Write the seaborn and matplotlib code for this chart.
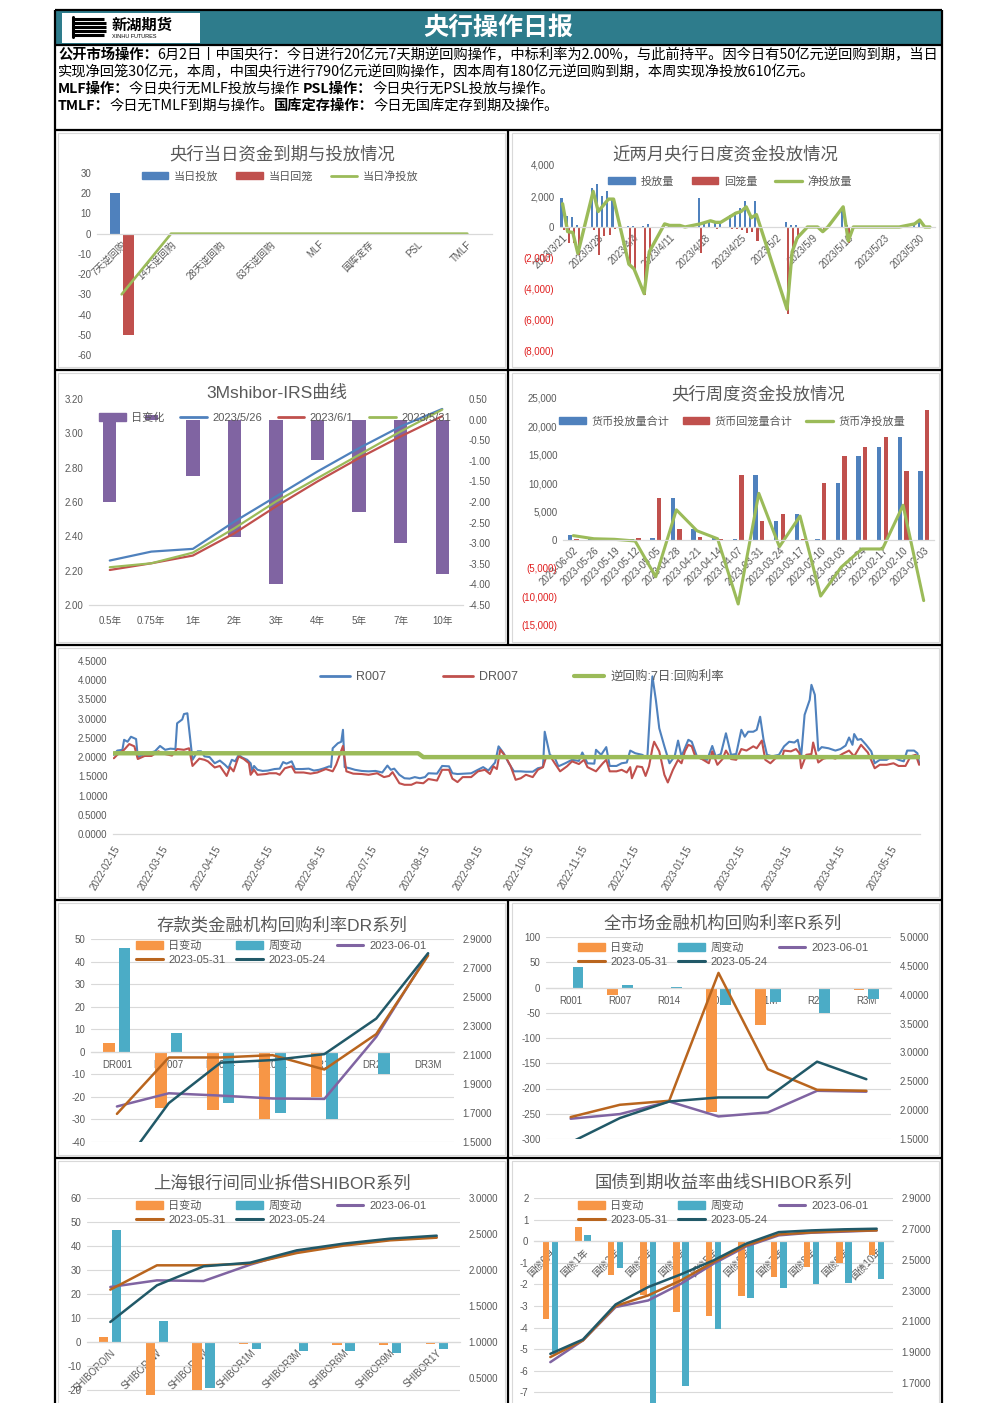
import numpy as np
import pandas as pd
import matplotlib
matplotlib.use("Agg")
import matplotlib.pyplot as plt
from matplotlib.patches import Patch, Rectangle
from matplotlib.lines import Line2D
import seaborn as sns

sns.set_style("white")
plt.rcParams["font.family"] = ["Liberation Sans", "Noto Sans CJK SC"]
plt.rcParams["axes.unicode_minus"] = False

W, H = 992, 1403
BLUE, RED, GREEN, PURPLE = "#4F81BD", "#C0504D", "#9BBB59", "#8064A2"
ORANGE, AQUA, BROWN, TEAL = "#F79646", "#4BACC6", "#B9651E", "#215968"
GRAY_TXT, GRAY_LN = "#595959", "#D9D9D9"
HEADER = "#2E7C8C"
NEG_RED = "#E02020"

# ---------------- data ----------------
# 央行当日资金到期与投放情况
op_cats = ["7天逆回购", "14天逆回购", "28天逆回购", "63天逆回购", "MLF", "国库定存", "PSL", "TMLF"]
op_inject = [20, 0, 0, 0, 0, 0, 0, 0]
op_withdraw = [-50, 0, 0, 0, 0, 0, 0, 0]
op_net = [-30, 0, 0, 0, 0, 0, 0, 0]

# 近两月央行日度资金投放情况
daily_dates = ["2023-03-21", "2023-03-22", "2023-03-23", "2023-03-24", "2023-03-27", "2023-03-28",
               "2023-03-29", "2023-03-30", "2023-03-31", "2023-04-03", "2023-04-04", "2023-04-06",
               "2023-04-07", "2023-04-10", "2023-04-11", "2023-04-12", "2023-04-13", "2023-04-14",
               "2023-04-17", "2023-04-18", "2023-04-19", "2023-04-20", "2023-04-21", "2023-04-23",
               "2023-04-24", "2023-04-25", "2023-04-26", "2023-04-27", "2023-04-28", "2023-05-04",
               "2023-05-05", "2023-05-06", "2023-05-08", "2023-05-09", "2023-05-10", "2023-05-11",
               "2023-05-12", "2023-05-15", "2023-05-16", "2023-05-17", "2023-05-18", "2023-05-19",
               "2023-05-22", "2023-05-23", "2023-05-24", "2023-05-25", "2023-05-26", "2023-05-29",
               "2023-05-30", "2023-05-31", "2023-06-01"]
daily_inject = [1900, 700, 650, 100, 2500, 2800, 2000, 2300, 1900, 80, 80, 80,
                200, 200, 100, 100, 100, 0, 1900, 300, 400, 300, 300, 800,
                1000, 1200, 1700, 900, 1700, 300, 100, 100, 0, 0, 0, 20,
                20, 1300, 100, 20, 20, 20, 20, 20, 20, 20, 20, 200,
                450, 50, 20]
daily_withdraw = [-200, -1000, -1000, -1800, -200, -1800, -600, -500, -100, -2500, -2800, -4400,
                  -1800, 0, 0, 0, 0, 0, -1700, 0, 0, -100, 0, -100,
                  -100, -200, -400, -300, -900, -5600, -1700, -800, -20, -20, -20, -320,
                  -20, 0, -1000, -20, -20, -20, -20, -20, -20, -20, -20, 0,
                  0, -50, -20]
daily_net = [1500, -300, -350, -1700, 2300, 1000, 1400, 1800, 1800, -2400, -2700, -4300,
             -1600, 200, 100, 100, 100, 0, 200, 300, 400, 300, 300, 700,
             900, 1000, 1300, 600, 800, -5300, -1600, -700, 0, 0, 0, -300,
             0, 1300, -900, 0, 0, 0, 0, 0, 0, 0, 0, 200,
             450, 0, 0]
daily_ticks = ["2023-03-21", "2023-03-28", "2023-04-04", "2023-04-11", "2023-04-18", "2023-04-25",
               "2023-05-02", "2023-05-09", "2023-05-16", "2023-05-23", "2023-05-30"]

# 3Mshibor-IRS曲线
irs_cats = ["0.5年", "0.75年", "1年", "2年", "3年", "4年", "5年", "7年", "10年"]
irs_chg = [-2.0, 0.1, -1.38, -2.86, -4.0, -0.99, -2.25, -3.0, -3.75]
irs_0526 = [2.259, 2.311, 2.327, 2.486, 2.632, 2.778, 2.914, 3.040, 3.142]
irs_0601 = [2.204, 2.243, 2.288, 2.418, 2.574, 2.720, 2.856, 2.982, 3.100]
irs_0531 = [2.220, 2.243, 2.305, 2.447, 2.603, 2.739, 2.875, 3.011, 3.138]

# 央行周度资金投放情况
wk_cats = ["2023-06-02", "2023-05-26", "2023-05-19", "2023-05-12", "2023-05-05", "2023-04-28",
           "2023-04-21", "2023-04-14", "2023-04-07", "2023-03-31", "2023-03-24", "2023-03-17",
           "2023-03-10", "2023-03-03", "2023-02-24", "2023-02-17", "2023-02-10", "2023-02-03"]
wk_inject = [790, 100, 100, 200, 300, 7300, 1900, 300, 200, 11500, 3300, 4600,
             150, 10000, 14800, 16400, 18200, 12200]
wk_withdraw = [180, 20, 20, 300, 7300, 1900, 500, 200, 11500, 3300, 4600, 150,
               10000, 14800, 16400, 18200, 12200, 22900]
wk_net = [750, 200, 100, -200, -6500, 5300, 1600, 200, -11300, 8200, -1200, 4200,
          -9900, -4800, -1600, -1600, 6100, -10700]

# R007 / DR007 / 逆回购
r007_dates = ["2022-02-15", "2022-02-17", "2022-02-20", "2022-02-21", "2022-02-23", "2022-02-25",
              "2022-02-28", "2022-03-01", "2022-03-04", "2022-03-07", "2022-03-11", "2022-03-14",
              "2022-03-17", "2022-03-20", "2022-03-23", "2022-03-24", "2022-03-27", "2022-03-28",
              "2022-03-30", "2022-04-02", "2022-04-05", "2022-04-07", "2022-04-09", "2022-04-12",
              "2022-04-15", "2022-04-18", "2022-04-21", "2022-04-23", "2022-04-25", "2022-04-27",
              "2022-04-29", "2022-05-01", "2022-05-04", "2022-05-06", "2022-05-07", "2022-05-08",
              "2022-05-10", "2022-05-13", "2022-05-16", "2022-05-20", "2022-05-23", "2022-05-25",
              "2022-05-27", "2022-05-30", "2022-06-01", "2022-06-05", "2022-06-09", "2022-06-12",
              "2022-06-15", "2022-06-18", "2022-06-21", "2022-06-22", "2022-06-23", "2022-06-26",
              "2022-06-28", "2022-06-29", "2022-06-30", "2022-07-03", "2022-07-06", "2022-07-10",
              "2022-07-14", "2022-07-18", "2022-07-22", "2022-07-25", "2022-07-27", "2022-07-29",
              "2022-08-01", "2022-08-04", "2022-08-07", "2022-08-10", "2022-08-13", "2022-08-16",
              "2022-08-18", "2022-08-23", "2022-08-26", "2022-08-30", "2022-09-01", "2022-09-04",
              "2022-09-08", "2022-09-12", "2022-09-16", "2022-09-19", "2022-09-22", "2022-09-26",
              "2022-09-28", "2022-10-01", "2022-10-04", "2022-10-07", "2022-10-11", "2022-10-14",
              "2022-10-18", "2022-10-21", "2022-10-24", "2022-10-25", "2022-10-28", "2022-10-31",
              "2022-11-02", "2022-11-06", "2022-11-10", "2022-11-14", "2022-11-16", "2022-11-19",
              "2022-11-23", "2022-11-24", "2022-11-27", "2022-11-30", "2022-12-02", "2022-12-06",
              "2022-12-09", "2022-12-12", "2022-12-14", "2022-12-17", "2022-12-21", "2022-12-24",
              "2022-12-26", "2022-12-27", "2022-12-29", "2022-12-31", "2023-01-03", "2023-01-06",
              "2023-01-09", "2023-01-11", "2023-01-13", "2023-01-17", "2023-01-19", "2023-01-22",
              "2023-01-25", "2023-01-28", "2023-01-31", "2023-02-02", "2023-02-05", "2023-02-08",
              "2023-02-11", "2023-02-14", "2023-02-17", "2023-02-19", "2023-02-21", "2023-02-24",
              "2023-02-26", "2023-02-28", "2023-03-02", "2023-03-04", "2023-03-07", "2023-03-11",
              "2023-03-14", "2023-03-17", "2023-03-20", "2023-03-22", "2023-03-24", "2023-03-26",
              "2023-03-29", "2023-03-30", "2023-04-01", "2023-04-03", "2023-04-05", "2023-04-09",
              "2023-04-13", "2023-04-16", "2023-04-19", "2023-04-21", "2023-04-23", "2023-04-24",
              "2023-04-26", "2023-04-28", "2023-05-01", "2023-05-04", "2023-05-06", "2023-05-09",
              "2023-05-13", "2023-05-16", "2023-05-20", "2023-05-23", "2023-05-25", "2023-05-29",
              "2023-05-31", "2023-06-01"]
r007_vals = [2.06, 2.17, 2.19, 2.45, 2.40, 2.53, 2.47, 2.00, 2.06, 2.10, 2.15, 2.29,
             2.19, 2.22, 2.21, 2.88, 2.98, 3.12, 3.14, 1.93, 2.15, 2.15, 2.02, 2.00,
             1.84, 1.91, 1.80, 1.71, 1.93, 1.89, 2.06, 1.99, 1.93, 1.84, 1.63, 1.77,
             1.67, 1.64, 1.65, 1.69, 1.70, 1.87, 1.83, 1.89, 1.69, 1.69, 1.70, 1.65,
             1.67, 1.71, 1.76, 1.74, 2.23, 2.36, 2.40, 2.71, 1.74, 1.71, 1.67, 1.64,
             1.63, 1.64, 1.60, 1.78, 1.67, 1.70, 1.54, 1.45, 1.44, 1.48, 1.45, 1.48,
             1.58, 1.57, 1.77, 1.76, 1.58, 1.56, 1.57, 1.58, 1.67, 1.74, 1.65, 1.86,
             2.28, 2.10, 1.84, 1.63, 1.63, 1.62, 1.62, 1.71, 1.74, 2.66, 2.06, 1.97,
             1.76, 1.84, 1.93, 1.90, 2.12, 1.84, 1.83, 2.19, 2.06, 2.26, 1.77, 1.77,
             1.84, 1.86, 2.17, 2.10, 2.06, 1.97, 3.49, 4.10, 3.49, 2.75, 2.28, 1.84,
             2.02, 2.43, 2.02, 2.45, 2.40, 2.02, 1.95, 1.93, 2.29, 2.02, 2.08, 2.62,
             2.06, 2.08, 2.71, 2.53, 2.66, 2.66, 2.71, 3.05, 2.45, 2.06, 2.02, 2.06,
             2.28, 2.40, 2.38, 2.45, 2.02, 3.10, 3.49, 3.88, 3.62, 2.17, 2.26, 2.23,
             2.17, 2.21, 2.30, 2.51, 2.32, 2.60, 2.45, 2.47, 2.32, 2.15, 1.84, 1.93,
             1.93, 2.02, 1.93, 1.89, 2.17, 2.17, 2.10, 1.84]
dr007_dates = ["2022-02-15", "2022-02-17", "2022-02-21", "2022-02-24", "2022-02-27", "2022-03-01",
               "2022-03-05", "2022-03-09", "2022-03-13", "2022-03-17", "2022-03-21", "2022-03-24",
               "2022-03-28", "2022-03-31", "2022-04-02", "2022-04-06", "2022-04-09", "2022-04-11",
               "2022-04-15", "2022-04-18", "2022-04-22", "2022-04-24", "2022-04-26", "2022-04-29",
               "2022-05-02", "2022-05-05", "2022-05-06", "2022-05-08", "2022-05-10", "2022-05-15",
               "2022-05-17", "2022-05-21", "2022-05-23", "2022-05-26", "2022-05-30", "2022-06-01",
               "2022-06-06", "2022-06-10", "2022-06-14", "2022-06-19", "2022-06-23", "2022-06-25",
               "2022-06-29", "2022-07-01", "2022-07-05", "2022-07-10", "2022-07-14", "2022-07-19",
               "2022-07-23", "2022-07-26", "2022-07-28", "2022-08-01", "2022-08-04", "2022-08-08",
               "2022-08-11", "2022-08-15", "2022-08-18", "2022-08-23", "2022-08-26", "2022-08-30",
               "2022-09-01", "2022-09-04", "2022-09-07", "2022-09-12", "2022-09-16", "2022-09-20",
               "2022-09-23", "2022-09-25", "2022-09-27", "2022-09-29", "2022-10-02", "2022-10-05",
               "2022-10-08", "2022-10-11", "2022-10-14", "2022-10-18", "2022-10-21", "2022-10-24",
               "2022-10-26", "2022-10-29", "2022-10-31", "2022-11-03", "2022-11-07", "2022-11-10",
               "2022-11-14", "2022-11-17", "2022-11-19", "2022-11-24", "2022-11-28", "2022-11-30",
               "2022-12-02", "2022-12-06", "2022-12-09", "2022-12-12", "2022-12-14", "2022-12-15",
               "2022-12-18", "2022-12-21", "2022-12-23", "2022-12-25", "2022-12-27", "2022-12-28",
               "2022-12-31", "2023-01-03", "2023-01-05", "2023-01-08", "2023-01-11", "2023-01-13",
               "2023-01-15", "2023-01-17", "2023-01-19", "2023-01-21", "2023-01-25", "2023-01-29",
               "2023-01-31", "2023-02-03", "2023-02-06", "2023-02-08", "2023-02-11", "2023-02-14",
               "2023-02-17", "2023-02-20", "2023-02-24", "2023-02-26", "2023-03-01", "2023-03-03",
               "2023-03-06", "2023-03-09", "2023-03-13", "2023-03-14", "2023-03-18", "2023-03-21",
               "2023-03-23", "2023-03-24", "2023-03-27", "2023-03-30", "2023-03-31", "2023-04-03",
               "2023-04-06", "2023-04-10", "2023-04-13", "2023-04-17", "2023-04-21", "2023-04-24",
               "2023-04-28", "2023-05-02", "2023-05-06", "2023-05-09", "2023-05-13", "2023-05-17",
               "2023-05-20", "2023-05-24", "2023-05-27", "2023-05-30", "2023-06-01"]
dr007_vals = [1.97, 2.06, 2.19, 2.34, 2.28, 1.95, 2.03, 2.03, 2.15, 2.08, 2.04, 2.21,
              2.19, 2.23, 1.77, 1.96, 1.93, 1.89, 1.73, 1.77, 1.51, 1.74, 1.63, 2.02,
              1.95, 1.84, 1.54, 1.67, 1.54, 1.56, 1.58, 1.58, 1.54, 1.71, 1.76, 1.60,
              1.60, 1.57, 1.60, 1.69, 1.63, 1.80, 2.29, 1.63, 1.57, 1.56, 1.54, 1.58,
              1.48, 1.51, 1.61, 1.32, 1.28, 1.28, 1.34, 1.32, 1.43, 1.39, 1.67, 1.67,
              1.44, 1.35, 1.48, 1.48, 1.63, 1.67, 1.56, 1.76, 1.69, 2.19, 2.02, 1.77,
              1.41, 1.45, 1.54, 1.48, 1.67, 1.74, 2.03, 1.97, 1.83, 1.63, 1.76, 1.89,
              1.82, 1.93, 1.74, 1.63, 1.84, 1.93, 1.63, 1.63, 1.67, 1.60, 1.74, 1.45,
              1.76, 1.74, 1.51, 1.76, 2.23, 2.40, 2.15, 1.54, 1.34, 1.67, 1.93, 1.84,
              2.15, 2.32, 2.28, 2.02, 1.95, 1.84, 2.15, 1.80, 1.95, 2.17, 1.95, 1.93,
              2.21, 2.17, 2.28, 2.23, 2.43, 1.93, 1.84, 1.97, 2.02, 2.17, 2.15, 2.21,
              2.10, 1.71, 2.06, 2.08, 2.38, 1.86, 1.96, 2.00, 1.96, 2.08, 2.17, 2.02,
              2.32, 2.12, 1.71, 1.80, 1.80, 1.84, 1.77, 1.77, 2.02, 2.06, 1.80]
repo_dates = ["2022-02-15", "2022-08-12", "2022-08-15", "2023-06-01"]
repo_vals = [2.10, 2.10, 2.00, 2.00]
rate_ticks = ["2022-02-15", "2022-03-15", "2022-04-15", "2022-05-15", "2022-06-15", "2022-07-15",
              "2022-08-15", "2022-09-15", "2022-10-15", "2022-11-15", "2022-12-15", "2023-01-15",
              "2023-02-15", "2023-03-15", "2023-04-15", "2023-05-15"]

# 存款类金融机构回购利率DR系列
dr_cats = ["DR001", "DR007", "DR014", "DR021", "DR1M", "DR2M", "DR3M"]
dr_day = [4, -25, -26, -30, -20, 0, 0]
dr_week = [46, 8.5, -22.5, -27, -30, -10, 0]
dr_0601 = [1.745, 1.836, 1.820, 1.800, 1.797, 2.225, 2.797]
dr_0531 = [1.694, 2.083, 2.083, 2.099, 2.000, 2.244, 2.786]
dr_0524 = [1.280, 1.768, 2.047, 2.065, 2.106, 2.351, 2.802]

# 全市场金融机构回购利率R系列
r_cats = ["R001", "R007", "R014", "R021", "R1M", "R2M", "R3M"]
r_day = [-2, -15, 0, -247, -75, -2, -5]
r_week = [41, 5.5, 1, -35, -28, -50, -23.5]
r_0601 = [1.851, 1.932, 2.150, 1.891, 1.960, 2.335, 2.320]
r_0531 = [1.880, 2.093, 2.162, 4.378, 2.709, 2.352, 2.335]
r_0524 = [1.440, 1.863, 2.150, 2.220, 2.220, 2.840, 2.536]

# 上海银行间同业拆借SHIBOR系列
s_cats = ["SHIBORO/N", "SHIBOR1W", "SHIBOR2W", "SHIBOR1M", "SHIBOR3M", "SHIBOR6M", "SHIBOR9M", "SHIBOR1Y"]
s_day = [2, -22, -20, -1, -0.5, -1.2, -1.3, -0.8]
s_week = [46.5, 8.7, -19, -3, -3.9, -3.9, -4.4, -3]
s_0601 = [1.764, 1.856, 1.847, 2.074, 2.264, 2.352, 2.426, 2.458]
s_0531 = [1.727, 2.065, 2.065, 2.088, 2.236, 2.338, 2.412, 2.449]
s_0524 = [1.278, 1.787, 2.051, 2.102, 2.273, 2.366, 2.435, 2.477]

# 国债到期收益率曲线SHIBOR系列
g_cats = ["国债6月", "国债1年", "国债2年", "国债3年", "国债4年", "国债5年", "国债6年", "国债7年",
          "国债8年", "国债9年", "国债10年"]
g_day = [-3.62, 0.66, -1.55, -2.5, -3.29, -3.48, -2.55, -1.65, -1.19, -1.0, -0.65]
g_week = [-5.2, 0.28, -1.24, -7.6, -6.7, -4.05, -2.63, -2.16, -2.0, -1.92, -1.75]
g_0601 = [1.836, 1.977, 2.193, 2.236, 2.344, 2.474, 2.586, 2.658, 2.675, 2.682, 2.690]
g_0531 = [1.869, 1.977, 2.200, 2.269, 2.366, 2.485, 2.593, 2.664, 2.677, 2.686, 2.690]
g_0524 = [1.890, 1.983, 2.210, 2.323, 2.405, 2.496, 2.604, 2.679, 2.690, 2.697, 2.701]

# ---------------- helpers ----------------
fig = plt.figure(figsize=(W / 100, H / 100), dpi=100)


def box(x0, y0, x1, y1):
    # pixel box (top-left origin) -> figure fraction rect
    return [x0 / W, 1 - y1 / H, (x1 - x0) / W, (y1 - y0) / H]


def excel_axes(ax, pad=4):
    for s in ("top", "right", "left"):
        ax.spines[s].set_visible(False)
    ax.spines["bottom"].set_color(GRAY_LN)
    ax.spines["bottom"].set_linewidth(0.9)
    ax.tick_params(length=0, labelsize=7, colors=GRAY_TXT, pad=pad)
    ax.set_xlabel("")
    ax.set_ylabel("")
    ax.patch.set_alpha(0)


def chart_title(x, y, s):
    fig.text(x / W, 1 - y / H, s, ha="center", va="center", fontsize=12.5, color=GRAY_TXT)


def chart_legend(x, y, handles, labels, ncol, fs=8, colsp=1.6):
    fig.legend(handles, labels, loc="center", bbox_to_anchor=(x / W, 1 - y / H), ncol=ncol,
               frameon=False, fontsize=fs, handlelength=2.4, handletextpad=0.5,
               columnspacing=colsp, labelcolor=GRAY_TXT, borderpad=0, borderaxespad=0,
               labelspacing=0.35)


def money_yaxis(ax, ticks):
    ax.set_yticks(ticks, labels=[f"({abs(t):,.0f})" if t < 0 else f"{t:,.0f}" for t in ticks])
    for t, lab in zip(ticks, ax.get_yticklabels()):
        if t < 0:
            lab.set_color(NEG_RED)


def long_bars(cats, a, b, name_a, name_b):
    return pd.DataFrame({"cat": cats + cats, "val": a + b,
                         "series": [name_a] * len(cats) + [name_b] * len(cats)})


# ---------------- page background ----------------
bg = fig.add_axes([0, 0, 1, 1])
bg.set_zorder(-1)
bg.set_xlim(0, W)
bg.set_ylim(H, 0)
bg.axis("off")

bg.add_patch(Rectangle((55, 10), 887, 35, facecolor=HEADER, edgecolor="none"))
bg.add_patch(Rectangle((62, 13), 138, 30, facecolor="white", edgecolor="none"))
for yy, x1 in zip([19, 23, 27, 31, 35], [104, 106, 106, 106, 104]):
    bg.plot([72, x1], [yy, yy], color="black", lw=2.2, solid_capstyle="butt")
bg.plot([73, 73], [17, 37], color="black", lw=2.2)
bg.text(112, 25, "新湖期货", fontsize=11, fontweight="bold", color="black", va="center",
        family=["Noto Sans CJK SC"])
bg.text(112, 37, "XINHU FUTURES", fontsize=4, color="black", va="center")
bg.text(498, 28, "央行操作日报", fontsize=18, fontweight="bold", color="white", ha="center",
        va="center", family=["Noto Sans CJK SC"])

frame = dict(color="black", lw=1.6, solid_capstyle="butt")
bg.plot([55, 942], [10, 10], **frame)
bg.plot([55, 55], [10, H], **frame)
bg.plot([942, 942], [10, H], **frame)
for yy in [45, 130, 370, 645, 900, 1158]:
    bg.plot([55, 942], [yy, yy], **frame)
bg.plot([508, 508], [130, 645], **frame)
bg.plot([508, 508], [900, H], **frame)
for (x0, y0, x1, y1) in [(58, 133, 505, 367), (512, 133, 939, 367), (58, 373, 505, 642),
                         (512, 373, 939, 642), (58, 648, 939, 897), (58, 903, 505, 1155),
                         (512, 903, 939, 1155), (58, 1161, 505, 1420), (512, 1161, 939, 1420)]:
    bg.add_patch(Rectangle((x0, y0), x1 - x0, y1 - y0, fill=False, edgecolor=GRAY_LN, lw=0.8))

# text block with bold lead-ins
renderer = fig.canvas.get_renderer()


def rich_line(x, y, parts, fs=10.3):
    for s, bold in parts:
        t = bg.text(x, y, s, fontsize=fs, fontweight="bold" if bold else "normal", va="center",
                    ha="left", color="black", family=["Noto Sans CJK SC", "DejaVu Sans"])
        x = t.get_window_extent(renderer).x1


rich_line(58, 55, [("公开市场操作：", True),
                   ("6月2日丨中国央行：今日进行20亿元7天期逆回购操作，中标利率为2.00%，与此前持平。因今日有50亿元逆回购到期，当日", False)])
rich_line(58, 72, [("实现净回笼30亿元，本周，中国央行进行790亿元逆回购操作，因本周有180亿元逆回购到期，本周实现净投放610亿元。", False)])
rich_line(58, 89, [("MLF操作：", True), ("今日央行无MLF投放与操作 ", False), ("PSL操作：", True),
                   ("今日央行无PSL投放与操作。", False)])
rich_line(58, 106, [("TMLF：", True), ("今日无TMLF到期与操作。", False), ("国库定存操作：", True),
                    ("今日无国库定存到期及操作。", False)])

# ---------------- chart 1: 当日资金到期与投放 ----------------
ax1 = fig.add_axes(box(97, 173, 492, 355))
sns.barplot(data=long_bars(op_cats, op_inject, op_withdraw, "当日投放", "当日回笼"), x="cat", y="val",
            hue="series", order=op_cats, palette=[BLUE, RED], width=0.54, gap=0.18,
            saturation=1, linewidth=0, errorbar=None, legend=False, ax=ax1)
sns.lineplot(x=np.arange(len(op_cats)), y=op_net, color=GREEN, lw=1.9, ax=ax1)
excel_axes(ax1)
ax1.set_ylim(-60, 30)
ax1.set_yticks(range(-60, 31, 10))
ax1.set_xlim(-0.5, len(op_cats) - 0.5)
ax1.spines["bottom"].set_position(("data", 0))
ax1.set_xticks(range(len(op_cats)), labels=op_cats, rotation=45, ha="right", rotation_mode="anchor")
chart_title(282, 154, "央行当日资金到期与投放情况")
chart_legend(280, 176, [Patch(color=BLUE), Patch(color=RED), Line2D([], [], color=GREEN, lw=2)],
             ["当日投放", "当日回笼", "当日净投放"], 3)

# ---------------- chart 2: 近两月日度资金 ----------------
ax2 = fig.add_axes(box(560, 165, 935, 351))
dd = pd.to_datetime(daily_dates)
ax2.bar(dd - pd.Timedelta(hours=5), daily_inject, width=0.4, color=BLUE, linewidth=0)
ax2.bar(dd + pd.Timedelta(hours=5), daily_withdraw, width=0.4, color=RED, linewidth=0)
sns.lineplot(x=dd, y=daily_net, color=GREEN, lw=2.4, ax=ax2)
excel_axes(ax2)
ax2.set_ylim(-8000, 4000)
money_yaxis(ax2, list(range(-8000, 4001, 2000)))
ax2.set_xlim(pd.Timestamp("2023-03-20 12:00"), pd.Timestamp("2023-06-02"))
ax2.spines["bottom"].set_position(("data", 0))
tk = pd.to_datetime(daily_ticks)
ax2.set_xticks(tk, labels=[f"{d.year}/{d.month}/{d.day}" for d in tk], rotation=45, ha="right",
               rotation_mode="anchor")
chart_title(725, 154, "近两月央行日度资金投放情况")
chart_legend(730, 181, [Patch(color=BLUE), Patch(color=RED), Line2D([], [], color=GREEN, lw=2.4)],
             ["投放量", "回笼量", "净投放量"], 3)

# ---------------- chart 3: 3Mshibor-IRS ----------------
ax3 = fig.add_axes(box(89, 399, 463, 605))
sns.barplot(x=irs_cats, y=irs_chg, order=irs_cats, color=PURPLE, saturation=1, width=0.32,
            linewidth=0, errorbar=None, ax=ax3)
ax3b = ax3.twinx()
for vals, c in [(irs_0526, BLUE), (irs_0601, RED), (irs_0531, GREEN)]:
    sns.lineplot(x=np.arange(len(irs_cats)), y=vals, color=c, lw=1.6, ax=ax3b)
excel_axes(ax3)
excel_axes(ax3b)
ax3b.spines["bottom"].set_visible(False)
ax3.yaxis.tick_right()
ax3b.yaxis.tick_left()
ax3.set_ylim(-4.5, 0.5)
rt = np.arange(-4.5, 0.51, 0.5)
ax3.set_yticks(rt, labels=[f"{t:.2f}" for t in rt])
ax3b.set_ylim(2.0, 3.2)
lt = np.arange(2.0, 3.21, 0.2)
ax3b.set_yticks(lt, labels=[f"{t:.2f}" for t in lt])
ax3.set_xlim(-0.5, len(irs_cats) - 0.5)
ax3.set_xticks(range(len(irs_cats)), labels=irs_cats)
ax3.tick_params(axis="x", pad=8)
chart_title(277, 393, "3Mshibor-IRS曲线")
chart_legend(275, 418, [Patch(color=PURPLE), Line2D([], [], color=BLUE, lw=2),
                        Line2D([], [], color=RED, lw=2), Line2D([], [], color=GREEN, lw=2)],
             ["日变化", "2023/5/26", "2023/6/1", "2023/5/31"], 4, colsp=1.4)

# ---------------- chart 4: 周度资金投放 ----------------
ax4 = fig.add_axes(box(563, 398, 934, 625))
sns.barplot(data=long_bars(wk_cats, wk_inject, wk_withdraw, "货币投放量合计", "货币回笼量合计"),
            x="cat", y="val", hue="series", order=wk_cats, palette=[BLUE, RED], width=0.64,
            gap=0.34, saturation=1, linewidth=0, errorbar=None, legend=False, ax=ax4)
sns.lineplot(x=np.arange(len(wk_cats)), y=wk_net, color=GREEN, lw=2.2, ax=ax4)
excel_axes(ax4)
ax4.set_ylim(-15000, 25000)
money_yaxis(ax4, list(range(-15000, 25001, 5000)))
ax4.set_xlim(-0.5, len(wk_cats) - 0.5)
ax4.spines["bottom"].set_position(("data", 0))
ax4.set_xticks(range(len(wk_cats)), labels=wk_cats, rotation=45, ha="right", rotation_mode="anchor")
chart_title(758, 394, "央行周度资金投放情况")
chart_legend(732, 421, [Patch(color=BLUE), Patch(color=RED), Line2D([], [], color=GREEN, lw=2.4)],
             ["货币投放量合计", "货币回笼量合计", "货币净投放量"], 3, colsp=1.2)

# ---------------- chart 5: R007 / DR007 ----------------
ax5 = fig.add_axes(box(113, 661, 920, 834))
sns.lineplot(x=pd.to_datetime(r007_dates), y=r007_vals, color=BLUE, lw=1.5, ax=ax5)
sns.lineplot(x=pd.to_datetime(dr007_dates), y=dr007_vals, color=RED, lw=1.5, ax=ax5)
sns.lineplot(x=pd.to_datetime(repo_dates), y=repo_vals, color=GREEN, lw=3.2, ax=ax5)
excel_axes(ax5)
ax5.set_ylim(0, 4.5)
yt = np.arange(0, 4.51, 0.5)
ax5.set_yticks(yt, labels=[f"{t:.4f}" for t in yt])
ax5.set_xlim(pd.Timestamp("2022-02-14 12:00"), pd.Timestamp("2023-06-01 12:00"))
rtk = pd.to_datetime(rate_ticks)
ax5.set_xticks(rtk, labels=[d.strftime("%Y-%m-%d") for d in rtk], rotation=60, ha="right",
               rotation_mode="anchor")
ax5.tick_params(axis="x", length=4, color=GRAY_LN, pad=3)
chart_legend(522, 677, [Line2D([], [], color=BLUE, lw=2), Line2D([], [], color=RED, lw=2),
                        Line2D([], [], color=GREEN, lw=3)],
             ["R007", "DR007", "逆回购:7日:回购利率"], 3, fs=9, colsp=4.5)


# ---------------- charts 6-9: 日变动 / 周变动 + three curves ----------------
def combo_chart(rect, cats, day_chg, week_chg, l0601, l0531, l0524, ylim_l, step_l, first_l,
                ylim_r, step_r, first_r, rot, width, gap):
    ax = fig.add_axes(rect)
    sns.barplot(data=long_bars(cats, day_chg, week_chg, "日变动", "周变动"), x="cat", y="val",
                hue="series", order=cats, palette=[ORANGE, AQUA], width=width, gap=gap,
                saturation=1, linewidth=0, errorbar=None, legend=False, ax=ax)
    axr = ax.twinx()
    for vals, c in [(l0601, PURPLE), (l0531, BROWN), (l0524, TEAL)]:
        sns.lineplot(x=np.arange(len(cats)), y=vals, color=c, lw=1.8, ax=axr)
    excel_axes(ax)
    excel_axes(axr, pad=6)
    axr.spines["bottom"].set_visible(False)
    ax.yaxis.tick_left()
    axr.yaxis.tick_right()
    ax.set_ylim(*ylim_l)
    ax.set_yticks(np.arange(first_l, ylim_l[1] + step_l / 2, step_l))
    ax.yaxis.grid(True, color=GRAY_LN, lw=0.8)
    ax.set_axisbelow(True)
    axr.set_ylim(*ylim_r)
    rt = np.arange(first_r, ylim_r[1] + step_r / 2, step_r)
    axr.set_yticks(rt, labels=[f"{t:.4f}" for t in rt])
    ax.set_xlim(-0.5, len(cats) - 0.5)
    ax.spines["bottom"].set_position(("data", 0))
    if rot:
        ax.set_xticks(range(len(cats)), labels=cats, rotation=rot, ha="right", rotation_mode="anchor")
    else:
        ax.set_xticks(range(len(cats)), labels=cats)
        ax.tick_params(axis="x", pad=6)
    return ax


def combo_legend(x, y):
    hs = [Patch(color=ORANGE), Line2D([], [], color=BROWN, lw=2.2), Patch(color=AQUA),
          Line2D([], [], color=TEAL, lw=2.2), Line2D([], [], color=PURPLE, lw=2.2)]
    ls = ["日变动", "2023-05-31", "周变动", "2023-05-24", "2023-06-01"]
    chart_legend(x, y, hs, ls, 3, colsp=1.0)


combo_chart(box(91, 939, 454, 1142), dr_cats, dr_day, dr_week, dr_0601, dr_0531, dr_0524,
            (-40, 50), 10, -40, (1.5, 2.9), 0.2, 1.5, 0, 0.6, 0.27)
chart_title(282, 925, "存款类金融机构回购利率DR系列")
combo_legend(281, 953)

combo_chart(box(546, 937, 891, 1139), r_cats, r_day, r_week, r_0601, r_0531, r_0524,
            (-300, 100), 50, -300, (1.5, 5.0), 0.5, 1.5, 0, 0.6, 0.27)
chart_title(723, 924, "全市场金融机构回购利率R系列")
combo_legend(723, 955)

# bottom row: the page cuts these charts off, so only the visible ticks are labelled
combo_chart(box(87, 1198, 460, 1414), s_cats, s_day, s_week, s_0601, s_0531, s_0524,
            (-30, 60), 10, -20, (0.0, 3.0), 0.5, 0.5, 45, 0.56, 0.29)
chart_title(282, 1183, "上海银行间同业拆借SHIBOR系列")
combo_legend(281, 1213)

combo_chart(box(534, 1198, 893, 1414), g_cats, g_day, g_week, g_0601, g_0531, g_0524,
            (-8, 2), 1, -7, (1.5, 2.9), 0.2, 1.7, 45, 0.56, 0.29)
chart_title(723, 1183, "国债到期收益率曲线SHIBOR系列")
combo_legend(723, 1213)

fig.savefig("out.png", dpi=100)
